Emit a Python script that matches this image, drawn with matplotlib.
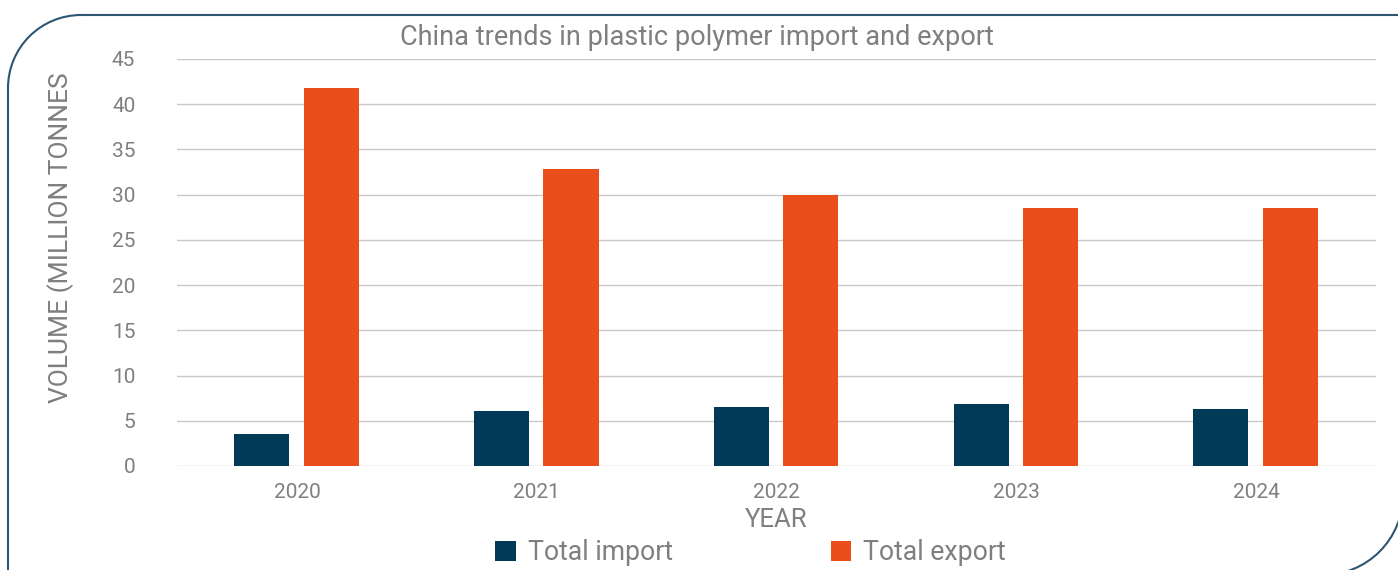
import matplotlib.pyplot as plt
import numpy as np
from matplotlib.patches import Arc
from matplotlib.lines import Line2D

years = ["2020", "2021", "2022", "2023", "2024"]
total_import = [3.5, 6.1, 6.5, 6.9, 6.3]
total_export = [41.8, 32.8, 30.0, 28.5, 28.5]

plt.rcParams['font.family'] = ['Roboto', 'DejaVu Sans']
grey = '#7f7f7f'
c_import = '#003a57'
c_export = '#e94e1b'
border = '#2d5673'

fig = plt.figure(figsize=(13.98, 5.70), dpi=100)
ax = fig.add_axes([0.1266, 0.1825, 0.8577, 0.714])

x = np.arange(len(years))
w = 0.23
ax.bar(x - 0.147, total_import, w, color=c_import, label='Total import', zorder=3)
ax.bar(x + 0.143, total_export, w, color=c_export, label='Total export', zorder=3)

ax.set_xlim(-0.5, len(years) - 0.5)
ax.set_ylim(0, 45)
ax.set_yticks(range(0, 46, 5))
ax.set_xticks(x)
ax.set_xticklabels(years)
ax.grid(axis='y', color='#c8c8c8', linewidth=1.0, zorder=0)
for s in ax.spines.values():
    s.set_visible(False)
ax.tick_params(axis='both', length=0, labelsize=15, labelcolor=grey)
ax.tick_params(axis='y', pad=30)
ax.tick_params(axis='x', pad=12)

fig.text(0.4985, 0.935, 'China trends in plastic polymer import and export',
         ha='center', va='center', fontsize=19.5, color=grey)
fig.text(0.043, 0.583, 'VOLUME (MILLION TONNES', rotation=90,
         ha='center', va='center', fontsize=19, color=grey)
fig.text(0.555, 0.088, 'YEAR', ha='center', va='center', fontsize=18.5, color=grey)

fig.legend(loc='center', bbox_to_anchor=(0.537, 0.03), ncol=2, frameon=False,
           fontsize=19.2, labelcolor=grey, handlelength=0.78, handleheight=0.78,
           handletextpad=0.45, columnspacing=5.9)

# rounded frame (top-left and bottom-right corners)
tr = fig.dpi_scale_trans
L, T, r1 = 0.08, 5.55, 0.73
R, B, r2 = 14.03, -0.05, 0.80
kw = dict(color=border, linewidth=1.5, transform=tr)
fig.add_artist(Line2D([L, L], [B, T - r1], **kw))
fig.add_artist(Line2D([L + r1, 14.2], [T, T], **kw))
fig.add_artist(Arc((L + r1, T - r1), 2 * r1, 2 * r1, theta1=90, theta2=180,
                   edgecolor=border, linewidth=1.5, transform=tr))
fig.add_artist(Arc((R - r2, B + r2), 2 * r2, 2 * r2, theta1=270, theta2=360,
                   edgecolor=border, linewidth=1.5, transform=tr))

plt.savefig('out.png', dpi=100)
